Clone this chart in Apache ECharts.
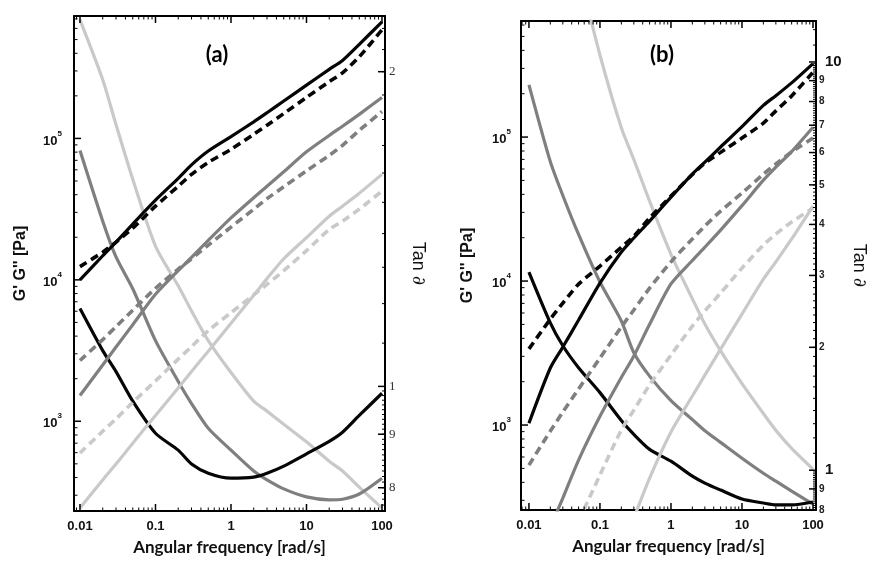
<!DOCTYPE html>
<html><head><meta charset="utf-8">
<script src="https://cdn.jsdelivr.net/npm/echarts@6/dist/echarts.min.js"></script>
<style>html,body{margin:0;padding:0;background:#fff}#c{width:869px;height:561px}</style>
</head><body><div id="c"></div>
<script>
// ---------------- data ----------------
const freq = [0.01,0.02,0.03,0.05,0.1,0.2,0.3,0.5,1,2,3,5,10,20,30,50,100];

// panel (a): G' (solid), G'' (dashed), tan delta
const aGp_black  = [1.0e4,1.48e4,1.85e4,2.48e4,3.66e4,5.22e4,6.5e4,8.14e4,1.03e5,1.31e5,1.52e5,1.84e5,2.38e5,3.08e5,3.56e5,4.63e5,6.67e5];
const aGpp_black = [1.24e4,1.57e4,1.85e4,2.32e4,3.32e4,4.59e4,5.57e4,6.77e4,8.37e4,1.07e5,1.24e5,1.5e5,1.95e5,2.52e5,2.91e5,3.78e5,5.86e5];
const aGp_dark   = [1.52e3,2.5e3,3.35e3,4.82e3,7.9e3,1.16e4,1.44e4,1.9e4,2.74e4,3.81e4,4.59e4,5.81e4,8.04e4,1.05e5,1.22e5,1.48e5,1.95e5];
const aGpp_dark  = [2.69e3,3.78e3,4.67e3,6.1e3,8.71e3,1.19e4,1.41e4,1.76e4,2.36e4,3.16e4,3.75e4,4.55e4,5.9e4,7.59e4,8.93e4,1.14e5,1.55e5];
const aGp_light  = [244,385,498,700,1.1e3,1.72e3,2.25e3,3.13e3,4.94e3,7.78e3,1.02e4,1.41e4,1.99e4,2.82e4,3.32e4,4.1e4,5.57e4];
const aGpp_light = [596,851,1.04e3,1.36e3,1.93e3,2.75e3,3.37e3,4.37e3,5.86e3,7.84e3,9.29e3,1.16e4,1.61e4,2.27e4,2.6e4,3.16e4,4.24e4];
const aTan_black = [1.187,1.082,1.033,0.968,0.902,0.869,0.843,0.826,0.817,0.819,0.826,0.839,0.862,0.886,0.904,0.938,0.985];
const aTan_dark  = [1.681,1.439,1.33,1.24,1.106,1.011,0.963,0.912,0.869,0.830,0.814,0.798,0.784,0.779,0.780,0.789,0.817];
const aTan_light = [2.242,1.965,1.78,1.578,1.362,1.248,1.181,1.106,1.031,0.968,0.947,0.920,0.885,0.848,0.830,0.801,0.765];

// panel (b)
const bGp_black  = [1.03e3,2.49e3,3.48e3,5.36e3,9.68e3,1.59e4,1.99e4,2.61e4,3.83e4,5.53e4,6.7e4,8.53e4,1.18e5,1.66e5,1.94e5,2.38e5,3.24e5];
const bGpp_black = [3.38e3,5.44e3,7.03e3,9.52e3,1.27e4,1.72e4,2.05e4,2.74e4,3.89e4,5.5e4,6.59e4,7.83e4,9.84e4,1.25e5,1.52e5,1.93e5,2.82e5];
const bGp_dark   = [91,196,311,571,1.15e3,2.14e3,3.02e3,5.01e3,9.55e3,1.39e4,1.72e4,2.26e4,3.34e4,5.02e4,6.19e4,7.93e4,1.17e5];
const bGpp_dark  = [527,908,1.23e3,1.78e3,2.92e3,4.8e3,6.3e3,8.93e3,1.36e4,1.96e4,2.41e4,3.06e4,4.08e4,5.53e4,6.5e4,7.87e4,9.84e4];
const bGp_light  = [null,null,null,null,null,135,226,428,894,1.59e3,2.22e3,3.37e3,5.9e3,1.03e4,1.36e4,1.96e4,3.32e4];
const bGpp_light = [null,null,null,215,450,923,1.27e3,1.9e3,3.06e3,4.87e3,6.2e3,8.26e3,1.23e4,1.78e4,2.12e4,2.57e4,3.21e4];
const bTan_black = [3.058,2.296,2.018,1.783,1.549,1.324,1.224,1.125,1.052,0.967,0.930,0.894,0.850,0.831,0.822,0.822,0.836];
const bTan_dark  = [8.79,5.70,4.71,3.78,2.89,2.32,1.94,1.70,1.48,1.33,1.25,1.17,1.07,0.983,0.940,0.889,0.826];
const bTan_light = [null,null,null,16.8,10.4,6.9,5.77,4.56,3.38,2.63,2.28,1.96,1.63,1.377,1.252,1.131,1.006];

// tick labels
const xTickVals   = [0.01,0.1,1,10,100];
const xTickLabels = ['0.01','0.1','1','10','100'];
const gTickVals   = [1e3,1e4,1e5];
const gTickExps   = ['3','4','5'];
const tanTickValsA   = [0.8,0.9,1,2];
const tanTickLabelsA = ['8','9','1','2'];
const tanTickValsB   = [0.8,0.9,1,2,3,4,5,6,7,8,9,10];
const tanTickLabelsB = ['8','9','1','2','3','4','5','6','7','8','9','10'];

// axis ranges
const rangeA = {x:[0.00833,109.6], g:[232,7.34e5], t:[0.760,2.261]};
const rangeB = {x:[0.00773,110.2], g:[257,6.4e5],  t:[0.799,12.6]};

// ---------------- helpers ----------------
const L = Math.log10;
function decadeMinors(e0,e1){const o=[];for(let e=e0;e<=e1;e++)for(let k=2;k<=9;k++)o.push(k*Math.pow(10,e));return o;}
function steps(a,b,s){const o=[];for(let v=a;v<=b+1e-9;v+=s)o.push(+v.toFixed(4));return o;}
const xMinor = decadeMinors(-3,2);
const gMinor = decadeMinors(2,5);
const tanMinorA = steps(0.76,0.99,0.01).concat(steps(1.1,2.3,0.1));
const tanMinorB = steps(0.81,0.99,0.01).concat(steps(1.1,9.9,0.1)).concat([11,12]);

function fmt(vals, labels){
  return function(v){
    for(let i=0;i<vals.length;i++) if(Math.abs(L(vals[i])-v)<1e-6) return labels[i];
    return '';
  };
}
const FONT='Liberation Sans';
function tAxis(gi,pos,range,label,extra){
  return Object.assign({
    type:'value', gridIndex:gi, position:pos, min:L(range[0]), max:L(range[1]),
    axisLine:{show:true,onZero:false,lineStyle:{color:'#000',width:2}},
    axisTick:{show:false},
    axisLabel: label || {show:false},
    splitLine:{show:false}, minorTick:{show:false}, silent:true
  }, extra||{});
}
function dAxis(gi,range,pos){
  return {type:'log',gridIndex:gi,position:pos,min:range[0],max:range[1],show:false,
          axisLine:{onZero:false},splitLine:{show:false}};
}
const xLabel = {show:true,customValues:xTickVals.map(L),formatter:fmt(xTickVals,xTickLabels),
  color:'#111',fontFamily:FONT,fontWeight:'bold',fontSize:13,margin:9};
function xName(){return {name:'Angular frequency [rad/s]',nameLocation:'middle',nameGap:28,
  nameTextStyle:{fontFamily:'Lato',fontWeight:'bold',fontSize:17,color:'#111'}};}
function gLabel(margin){
  return {show:true,customValues:gTickVals.map(L),margin:margin,
    formatter:function(v){for(let i=0;i<gTickVals.length;i++) if(Math.abs(L(gTickVals[i])-v)<1e-6) return '{b|10}{s|'+gTickExps[i]+'}'; return '';},
    rich:{b:{fontFamily:FONT,fontWeight:'bold',fontSize:13,color:'#111',verticalAlign:'bottom',lineHeight:18},
          s:{fontFamily:FONT,fontWeight:'bold',fontSize:8,color:'#111',verticalAlign:'top',lineHeight:18}}};
}
function gName(){return {name:"G' G'' [Pa]",nameLocation:'middle',nameGap:45,
  nameTextStyle:{fontFamily:FONT,fontWeight:'bold',fontSize:16,color:'#111'}};}
const tanLabelA = {show:true,customValues:tanTickValsA.map(L),formatter:fmt(tanTickValsA,tanTickLabelsA),
  margin:4,color:'#333',fontFamily:'Liberation Serif',fontSize:13};
const tanLabelB = {show:true,customValues:tanTickValsB.map(L),margin:3,
  formatter:function(v){for(let i=0;i<tanTickValsB.length;i++) if(Math.abs(L(tanTickValsB[i])-v)<1e-6){
      const big = tanTickValsB[i]===1||tanTickValsB[i]===10; return (big?'{big|':'{sm|')+tanTickLabelsB[i]+'}';} return '';},
  rich:{big:{fontFamily:FONT,fontWeight:'bold',fontSize:15,color:'#111',padding:[0,0,0,6]},
        sm:{fontFamily:FONT,fontWeight:'bold',fontSize:10,color:'#222'}}};
function tanName(gap){
  return {name:'Tan {i|∂}',nameLocation:'middle',nameGap:gap,nameRotate:-90,
    nameTextStyle:{fontFamily:FONT,fontSize:18,color:'#111',rich:{i:{fontFamily:'DejaVu Serif',fontStyle:'italic',fontSize:18,color:'#111'}}}};
}
function xAxesFor(gi,r){
  return [dAxis(gi,r.x,'bottom'), tAxis(gi,'bottom',r.x,xLabel,xName()), tAxis(gi,'top',r.x)];
}
function yAxesFor(gi,r,tanLabel,tanGap,gMargin){
  return [dAxis(gi,r.g,'left'), dAxis(gi,r.t,'right'),
    tAxis(gi,'left',r.g,gLabel(gMargin),gName()),
    tAxis(gi,'right',r.t,tanLabel,tanName(tanGap))];
}

const BLACK='#050505', DARK='#7f7f7f', LIGHT='#c9c9c9';
function pts(ys){return freq.map((x,i)=>[x,ys[i]]).filter(p=>p[1]!=null);}
function line(ys,color,dashed,xi,yi){
  return {type:'line',xAxisIndex:xi,yAxisIndex:yi,data:pts(ys),showSymbol:false,symbol:'none',
    smooth:0.25,clip:true,silent:true,animation:false,z:2,
    lineStyle:{color:color,width:dashed?3.6:3.2,type:dashed?[8,5]:'solid',cap:'butt'}};
}

const series = [
  line(aTan_light,LIGHT,false,0,1), line(aTan_dark,DARK,false,0,1), line(aTan_black,BLACK,false,0,1),
  line(aGp_light,LIGHT,false,0,0), line(aGpp_light,LIGHT,true,0,0),
  line(aGp_dark,DARK,false,0,0),   line(aGpp_dark,DARK,true,0,0),
  line(aGp_black,BLACK,false,0,0), line(aGpp_black,BLACK,true,0,0),
  line(bTan_light,LIGHT,false,3,5), line(bTan_dark,DARK,false,3,5), line(bTan_black,BLACK,false,3,5),
  line(bGp_light,LIGHT,false,3,4), line(bGpp_light,LIGHT,true,3,4),
  line(bGp_dark,DARK,false,3,4),   line(bGpp_dark,DARK,true,3,4),
  line(bGp_black,BLACK,false,3,4), line(bGpp_black,BLACK,true,3,4)
];

const texts = [
  {type:'text',x:217,y:55,z:50,style:{text:'(a)',font:'bold 22px Lato',fill:'#000',align:'center',verticalAlign:'middle'}},
  {type:'text',x:662,y:55,z:50,style:{text:'(b)',font:'bold 22px Lato',fill:'#000',align:'center',verticalAlign:'middle'}}
];

const chart = echarts.init(document.getElementById('c'),null,{renderer:'canvas'});
chart.setOption({
  animation:false,
  backgroundColor:'#fff',
  grid:[{left:74,top:16,width:311,height:497},{left:521,top:21,width:297,height:489}],
  xAxis: xAxesFor(0,rangeA).concat(xAxesFor(1,rangeB)),
  yAxis: yAxesFor(0,rangeA,tanLabelA,24,12).concat(yAxesFor(1,rangeB,tanLabelB,34,10)),
  graphic:{elements:texts},
  series:series
});

// tick marks: positions from the data axes' own scales (convertToPixel)
function inR(v,r){return v>=r[0]*0.9999 && v<=r[1]*1.0001;}
function seg(x1,y1,x2,y2,w){return {type:'line',silent:true,z:60,shape:{x1:x1,y1:y1,x2:x2,y2:y2},style:{stroke:'#000',lineWidth:w}};}
function ticksFor(xi,yg,yt,r,tanVals,tanMinor){
  const out=[];
  const X=v=>chart.convertToPixel({xAxisIndex:xi},v);
  const YG=v=>chart.convertToPixel({yAxisIndex:yg},v);
  const YT=v=>chart.convertToPixel({yAxisIndex:yt},v);
  const yb=YG(r.g[0]), ytop=YG(r.g[1]), xl=X(r.x[0]), xr=X(r.x[1]);
  xTickVals.filter(v=>inR(v,r.x)).forEach(v=>{const p=X(v); out.push(seg(p,yb,p,yb-7,1.5),seg(p,ytop,p,ytop+7,1.5));});
  xMinor.filter(v=>inR(v,r.x)).forEach(v=>{const p=X(v); out.push(seg(p,yb,p,yb-3.5,1),seg(p,ytop,p,ytop+3.5,1));});
  gTickVals.filter(v=>inR(v,r.g)).forEach(v=>{const p=YG(v); out.push(seg(xl,p,xl+7,p,1.5));});
  gMinor.filter(v=>inR(v,r.g)).forEach(v=>{const p=YG(v); out.push(seg(xl,p,xl+3.5,p,1));});
  tanVals.filter(v=>inR(v,r.t)).forEach(v=>{const p=YT(v); out.push(seg(xr,p,xr-7,p,1.5));});
  tanMinor.filter(v=>inR(v,r.t)).forEach(v=>{const p=YT(v); out.push(seg(xr,p,xr-3,p,1));});
  return out;
}
try{
  const tickEls = ticksFor(0,0,1,rangeA,tanTickValsA,tanMinorA).concat(ticksFor(3,4,5,rangeB,tanTickValsB,tanMinorB));
  chart.setOption({graphic:{elements:texts.concat(tickEls)}});
}catch(e){}
</script></body></html>
